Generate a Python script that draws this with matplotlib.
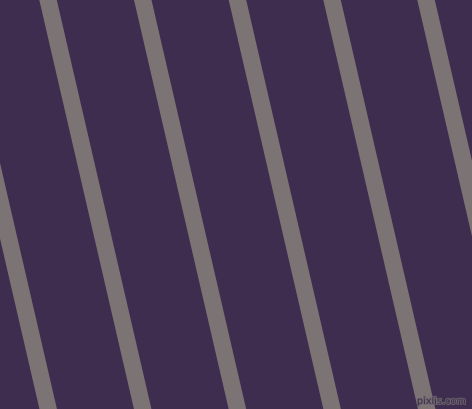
import matplotlib
matplotlib.use("Agg")
import matplotlib.pyplot as plt
import matplotlib.patheffects as pe
import numpy as np

# stripe left-edge x positions at the top row (pixels)
stripe_starts = [-55.2, 39.3, 134.0, 228.7, 323.3, 417.3]
stripe_width = 17.5      # horizontal width
stripe_slope = 0.2314    # dx per dy
bg_color = "#3E2D4E"
stripe_color = "#7C7374"

W, H = 472, 409
fig = plt.figure(figsize=(W / 100, H / 100), dpi=100)
ax = fig.add_axes([0, 0, 1, 1])
ax.set_xlim(0, W)
ax.set_ylim(H, 0)
ax.axis("off")
fig.patch.set_facecolor(bg_color)
ax.set_facecolor(bg_color)

ys = np.array([-5, H + 5])
for x0 in stripe_starts:
    left = x0 + stripe_slope * ys
    right = left + stripe_width
    ax.fill([left[0], right[0], right[1], left[1]], [ys[0], ys[0], ys[1], ys[1]],
            color=stripe_color, lw=0)

ax.text(466, 404, "pixlis.com", color="#3A2E44", fontsize=7, ha="right", va="baseline",
        path_effects=[pe.withStroke(linewidth=1.2, foreground="#6E6672")])

fig.savefig("out.png", dpi=100, facecolor=bg_color)
